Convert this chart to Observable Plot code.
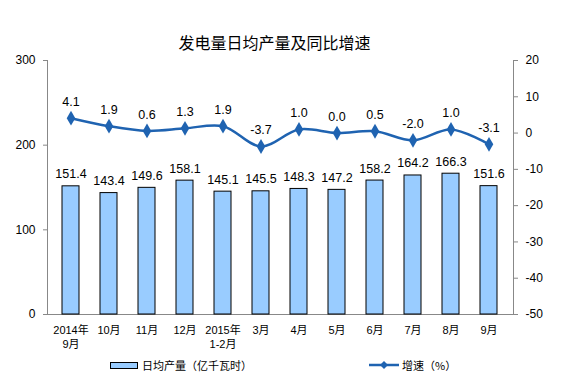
<!DOCTYPE html>
<html>
<head>
<meta charset="utf-8">
<script src="https://cdn.jsdelivr.net/npm/d3@7"></script>
<script src="https://cdn.jsdelivr.net/npm/@observablehq/plot@0.6"></script>
<style>
  html, body { margin: 0; padding: 0; background: #fff; }
  #wrap { width: 565px; font-family: "Liberation Sans", "Noto Sans CJK SC", sans-serif; }
  #title { height: 20px; padding-top: 32px; line-height: 20px; text-align: center; padding-right: 16px;
           font-family: "Noto Sans CJK SC", sans-serif; font-size: 16px; color: #000; }
  #legend { position: relative; height: 32px; font-family: "Noto Sans CJK SC", sans-serif; font-size: 11px; color: #000; }
  .sw-bar { position: absolute; left: 110px; top: 10px; width: 26px; height: 5px; background: #99ccff; border: 1px solid #000; }
  .lbl { position: absolute; top: 5px; line-height: 16px; }
</style>
</head>
<body>
<div id="wrap">
  <div id="title">发电量日均产量及同比增速</div>
  <div id="chart"></div>
  <div id="legend">
    <div class="sw-bar"></div>
    <div class="lbl" style="left:142px">日均产量（亿千瓦时）</div>
    <svg style="position:absolute;left:368px;top:6px" width="32" height="14">
      <line x1="1" y1="7" x2="31" y2="7" stroke="#1f63b1" stroke-width="2.5"/>
      <path d="M16,3 L20,7 L16,11 L12,7 Z" fill="#1f63b1"/>
    </svg>
    <div class="lbl" style="left:402px">增速（%）</div>
  </div>
</div>
<script>
const categories = ["2014年\n9月", "10月", "11月", "12月", "2015年\n1-2月", "3月", "4月", "5月", "6月", "7月", "8月", "9月"];
const output = [151.4, 143.4, 149.6, 158.1, 145.1, 145.5, 148.3, 147.2, 158.2, 164.2, 166.3, 151.6];
const growth = [4.1, 1.9, 0.6, 1.3, 1.9, -3.7, 1.0, 0.0, 0.5, -2.0, 1.0, -3.1];
const leftTicks = [0, 100, 200, 300];
const rightTicks = [-50, -40, -30, -20, -10, 0, 10, 20];

const data = categories.map((c, i) => ({cat: c, output: output[i], growth: growth[i]}));
const g2y = d3.scaleLinear([-50, 20], [0, 300]);
const lineColor = "#1f63b1";

const chart = Plot.plot({
  width: 565,
  height: 300,
  marginTop: 8,
  marginBottom: 38,
  marginLeft: 47,
  marginRight: 52,
  style: {fontFamily: "Liberation Sans, Noto Sans CJK SC, sans-serif", fontSize: "12px", color: "#000", background: "#fff"},
  x: {domain: categories, paddingInner: 0.55, paddingOuter: 0.275},
  y: {domain: [0, 300]},
  marks: [
    Plot.frame({anchor: "left", stroke: "#888"}),
    Plot.frame({anchor: "right", stroke: "#888"}),
    Plot.frame({anchor: "bottom", stroke: "#888"}),
    Plot.barY(data, {x: "cat", y: "output", fill: "#99ccff", stroke: "#000", strokeWidth: 1}),
    Plot.text(data, {x: "cat", y: "output", text: d => d.output.toFixed(1), lineAnchor: "bottom", dy: -8, fontSize: 12.5}),
    Plot.line(data, {x: "cat", y: d => g2y(d.growth), stroke: lineColor, strokeWidth: 2.5, curve: "catmull-rom"}),
    Plot.dot(data, {x: "cat", y: d => g2y(d.growth), symbol: "diamond", r: 4.5, fill: lineColor}),
    Plot.text(data, {x: "cat", y: d => g2y(d.growth), text: d => d.growth.toFixed(1), lineAnchor: "bottom", dy: -12, fontSize: 12.5}),
    Plot.axisY({anchor: "left", ticks: leftTicks, tickSize: 4, tickPadding: 8, label: null, stroke: "#888"}),
    Plot.axisY({anchor: "right", ticks: rightTicks.map(g2y), tickFormat: v => String(Math.round(g2y.invert(v))), tickSize: 4, tickPadding: 8, label: null, stroke: "#888"}),
    Plot.axisX({tickSize: 0, tickPadding: 9, label: null, fontSize: 11, lineHeight: 1.3})
  ]
});
document.getElementById("chart").appendChild(chart);
</script>
</body>
</html>
